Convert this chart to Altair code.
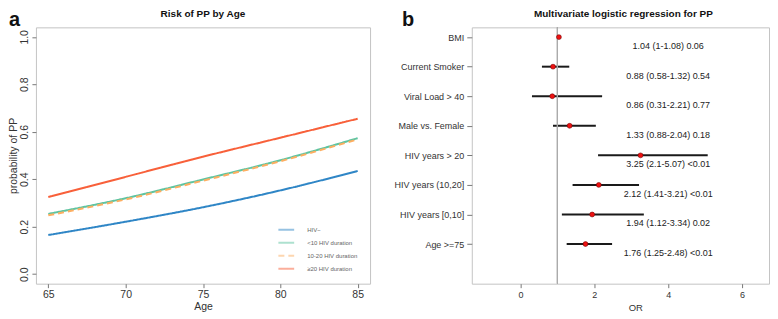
import json
import altair as alt
import pandas as pd

# ---------------- data: panel a ----------------
ages = [65, 70, 75, 80, 85]
hiv_neg = [0.165, 0.221, 0.282, 0.353, 0.435]
hiv_lt10 = [0.254, 0.320, 0.399, 0.480, 0.573]
hiv_10_20 = [0.248, 0.315, 0.394, 0.476, 0.568]
hiv_ge20 = [0.325, 0.410, 0.495, 0.575, 0.655]
series_names = ["HIV\u2212", "<10 HIV duration", "10-20 HIV duration", "\u226520  HIV duration"]
series_colors = ["#2f86c6", "#5ec4a0", "#fdae61", "#f8603a"]
series_dash = [[1, 0], [1, 0], [6, 4], [1, 0]]

# ---------------- data: panel b ----------------
factors = ["BMI", "Current Smoker", "Viral Load > 40", "Male vs. Female",
           "HIV years > 20", "HIV years (10,20]", "HIV years [0,10]", "Age >=75"]
odds = [1.04, 0.88, 0.86, 1.33, 3.25, 2.12, 1.94, 1.76]
ci_low = [1.00, 0.58, 0.31, 0.88, 2.10, 1.41, 1.12, 1.25]
ci_high = [1.08, 1.32, 2.21, 2.04, 5.07, 3.21, 3.34, 2.48]
p_text = ["0.06", "0.54", "0.77", "0.18", "<0.01", "<0.01", "0.02", "<0.01"]

title_a = "Risk of PP by Age"
title_b = "Multivariate logistic regression for PP"

FONT = "Liberation Sans"

rows = []
for name, vals in zip(series_names, [hiv_neg, hiv_lt10, hiv_10_20, hiv_ge20]):
    for a, v in zip(ages, vals):
        rows.append({"age": a, "prob": v, "group": name})
df_a = pd.DataFrame(rows)

n = len(factors)
df_b = pd.DataFrame({
    "factor": factors,
    "pos": list(range(n, 0, -1)),
    "odds": odds,
    "lo": ci_low,
    "hi": ci_high,
    "label": ["{:g} ({:g}-{:g}) {}".format(o, l, h, p)
              for o, l, h, p in zip(odds, ci_low, ci_high, p_text)],
})

# ---------------- panel a ----------------
W_A, H = 335, 257

lines = alt.Chart(df_a).mark_line(strokeWidth=2, interpolate="monotone").encode(
    x=alt.X("age:Q",
            scale=alt.Scale(domain=[64.2, 85.8], nice=False, zero=False),
            axis=alt.Axis(values=[65, 70, 75, 80, 85], title="Age", grid=False,
                          domain=False, tickSize=4, labelPadding=2, titlePadding=1,
                          labelFontSize=10.5, titleFontSize=10.5,
                          labelFont=FONT, titleFont=FONT)),
    y=alt.Y("prob:Q",
            scale=alt.Scale(domain=[-0.04, 1.04], nice=False, zero=False),
            axis=alt.Axis(values=[0, 0.2, 0.4, 0.6, 0.8, 1.0], format=".1f",
                          title="probability of PP", grid=False, domain=False,
                          tickSize=4, labelPadding=2, titlePadding=1,
                          labelAngle=270, labelAlign="center", labelBaseline="bottom",
                          labelFontSize=10.5, titleFontSize=10.5,
                          labelFont=FONT, titleFont=FONT)),
    color=alt.Color("group:N",
                    scale=alt.Scale(domain=series_names, range=series_colors),
                    legend=alt.Legend(orient="none", legendX=242, legendY=194,
                                      title=None, symbolType="stroke", symbolSize=250,
                                      symbolStrokeWidth=2, symbolOpacity=0.5,
                                      labelFontSize=6, labelColor="#666",
                                      labelOffset=12, rowPadding=0)),
    strokeDash=alt.StrokeDash("group:N",
                              scale=alt.Scale(domain=series_names, range=series_dash),
                              legend=None),
)

tag_a = alt.Chart(pd.DataFrame({"t": ["a"]})).mark_text(
    fontSize=20, fontWeight="bold", align="left", baseline="top", font=FONT, color="#111"
).encode(text="t:N", x=alt.value(-27), y=alt.value(-17))

ttl_a = alt.Chart(pd.DataFrame({"t": [title_a]})).mark_text(
    fontSize=10, fontWeight="bold", align="center", baseline="middle", font=FONT,
    color="#111"
).encode(text="t:N", x=alt.value(W_A / 2), y=alt.value(-13))

panel_a = alt.layer(lines, tag_a, ttl_a).properties(width=W_A, height=H)

# ---------------- panel b ----------------
W_B = 298
label_arr = [""] + factors[::-1]
label_expr = "[" + ",".join(json.dumps(s) for s in label_arr) + "][datum.value]"

x_b = alt.X("lo:Q",
            scale=alt.Scale(domain=[-1.32, 6.73], nice=False, zero=False),
            axis=alt.Axis(values=[0, 2, 4, 6], title="OR", grid=False, domain=False,
                          tickSize=4, labelPadding=3, titlePadding=3, titleX=164,
                          labelFontSize=9, titleFontSize=9.5,
                          labelFont=FONT, titleFont=FONT))
y_b = alt.Y("pos:Q",
            scale=alt.Scale(domain=[-0.34, 8.33], nice=False, zero=False),
            axis=alt.Axis(values=list(range(1, n + 1)), labelExpr=label_expr,
                          title=None, grid=False, domain=False, tickSize=5,
                          labelPadding=3, labelFontSize=9, labelOverlap=False,
                          labelFont=FONT))

base_b = alt.Chart(df_b)
vline = base_b.mark_rule(color="#ababab", strokeWidth=1).encode(x=alt.datum(1))
ci = base_b.mark_rule(color="#1a1a1a", strokeWidth=2).encode(x=x_b, x2="hi:Q", y=y_b)
pts = base_b.mark_circle(size=24, color="#ee1111", opacity=1,
                         stroke="#7a0000", strokeWidth=0.6).encode(x="odds:Q", y=y_b)
txt = base_b.mark_text(fontSize=9, dy=9, align="center", font=FONT, color="#222").encode(
    x=alt.datum(4), y=y_b, text="label:N")
tag_b = alt.Chart(pd.DataFrame({"t": ["b"]})).mark_text(
    fontSize=20, fontWeight="bold", align="left", baseline="top", font=FONT, color="#111"
).encode(text="t:N", x=alt.value(-70), y=alt.value(-17))
ttl_b = alt.Chart(pd.DataFrame({"t": [title_b]})).mark_text(
    fontSize=10, fontWeight="bold", align="center", baseline="middle", font=FONT,
    color="#111"
).encode(text="t:N", x=alt.value(W_B / 2 + 3), y=alt.value(-13))

panel_b = alt.layer(ci, vline, pts, txt, tag_b, ttl_b).properties(width=W_B, height=H)

chart = alt.hconcat(panel_a, panel_b, spacing=102, bounds="flush").properties(
    padding={"left": 0, "top": 0, "right": 0, "bottom": 0}
).configure_view(
    stroke="#c4c4c4", strokeWidth=1
).configure_axis(
    labelFont=FONT, titleFont=FONT, labelColor="#333", titleColor="#333",
    tickColor="#777", titleFontWeight="normal"
).configure_legend(
    labelFont=FONT
)

chart.save("out.html", embed_options={"renderer": "svg", "actions": False})
